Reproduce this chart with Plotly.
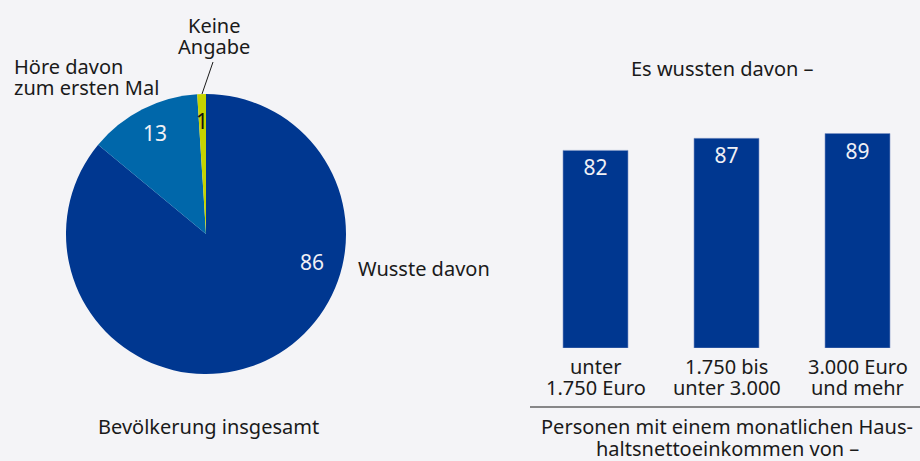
import math
import plotly.graph_objects as go

# Anteile insgesamt (Prozent)
pie_labels = ["Wusste davon", "Höre davon zum ersten Mal", "Keine Angabe"]
pie_values = [86, 13, 1]
pie_colors = ["#003790", "#0067aa", "#c5d300"]

# Nach Haushaltsnettoeinkommen
income_groups = [["unter", "1.750 Euro"], ["1.750 bis", "unter 3.000"], ["3.000 Euro", "und mehr"]]
knew_values = [82, 87, 89]

W, H = 920, 461
BG = "#f4f4f7"
FONT = "Noto Sans"
TXT = "#1a1a1a"
FS = 20


def px(x):
    return x / W


def py(y):
    return 1 - y / H


fig = go.Figure()

# Kreis: Mittelpunkt (206, 234), Radius 140
fig.add_trace(go.Pie(
    labels=pie_labels, values=pie_values,
    marker=dict(colors=pie_colors, line=dict(width=0)),
    sort=False, direction="clockwise", rotation=0,
    textinfo="none", showlegend=False, hoverinfo="label+value",
    domain=dict(x=[px(66), px(346)], y=[py(374), py(94)]),
))

fig.add_trace(go.Bar(
    x=[0, 1, 2], y=knew_values,
    text=[str(v) for v in knew_values], textposition="inside",
    insidetextanchor="end", textangle=0,
    textfont=dict(color="#f0f0f5", size=21, family=FONT),
    marker=dict(color="#003790", line=dict(width=0.6, color="#7f95c6")),
    width=65 / 131, showlegend=False, cliponaxis=False,
    xaxis="x", yaxis="y",
))

fig.update_layout(
    width=W, height=H,
    margin=dict(l=0, r=0, t=0, b=0),
    paper_bgcolor=BG, plot_bgcolor=BG,
    font=dict(family=FONT, size=FS, color=TXT),
    xaxis=dict(domain=[px(530), 1], range=[-0.5, 2.5 - 3 / 131],
               showticklabels=False, showgrid=False, zeroline=False,
               showline=False, ticks=""),
    yaxis=dict(domain=[py(348), py(107)], range=[0, 100], visible=False),
)

# Kategorienbeschriftung (zweizeilig, enger Zeilenabstand)
for i, lines in enumerate(income_groups):
    for j, t in enumerate(lines):
        fig.add_annotation(x=i, xref="x", y=py(366 + 21 * j), yref="paper",
                           text=t, showarrow=False, xanchor="center", yanchor="middle",
                           borderpad=0, font=dict(size=FS, color=TXT))

# Zahlen im Kreis
cx, cy = 206, 234
angles = [105, None, None]
cum = 0
for i, v in enumerate(pie_values):
    mid = (cum + v / 2) / 100 * 360
    cum += v
    a = angles[i] if angles[i] is not None else mid
    rr = 110 if i == 0 else 113
    tx = cx + rr * math.sin(math.radians(a))
    ty = cy - rr * math.cos(math.radians(a))
    fig.add_annotation(x=px(tx), y=py(ty), xref="paper", yref="paper",
                       text=str(v), showarrow=False, xanchor="center", yanchor="middle",
                       font=dict(size=21, color="#f0f0f5" if i < 2 else "#111111"))

ann = [
    (357, 268, "Wusste davon", "left"),
    (13, 67, "Höre davon", "left"),
    (13, 88, "zum ersten Mal", "left"),
    (214, 25, "Keine", "center"),
    (214, 47, "Angabe", "center"),
    (208, 426, "Bevölkerung insgesamt", "center"),
    (722, 68, "Es wussten davon –", "center"),
    (727, 426, "Personen mit einem monatlichen Haus-", "center"),
    (727, 448, "haltsnettoeinkommen von –", "center"),
]
for x, y, t, anc in ann:
    fig.add_annotation(x=px(x), y=py(y), xref="paper", yref="paper", text=t,
                       showarrow=False, xanchor=anc, yanchor="middle", borderpad=0,
                       font=dict(size=FS, color=TXT))

fig.add_shape(type="line", xref="paper", yref="paper",
              x0=px(213), y0=py(62), x1=px(202), y1=py(94),
              line=dict(color=TXT, width=1))
fig.add_shape(type="line", xref="paper", yref="paper",
              x0=px(530), y0=py(407), x1=1, y1=py(407),
              line=dict(color=TXT, width=1.2))

fig.write_html("out.html", config={"displayModeBar": False},
               post_script="document.body.style.margin='0';document.body.style.background='" + BG + "';")
